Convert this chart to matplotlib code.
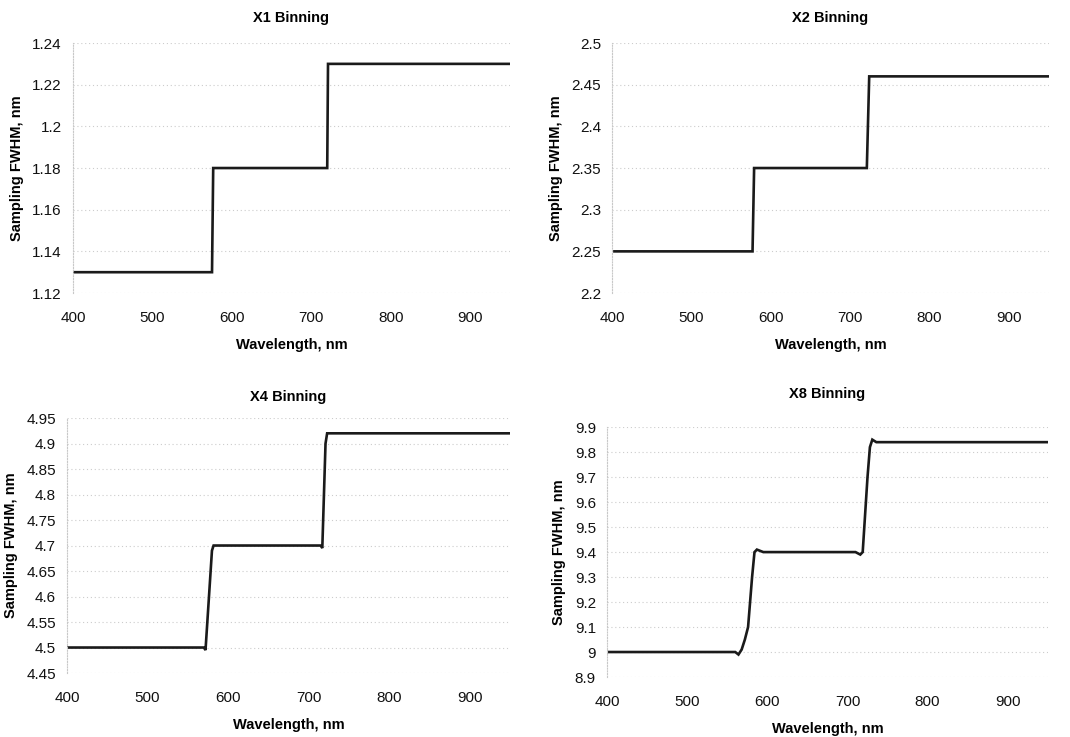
import matplotlib
matplotlib.use("Agg")
import matplotlib.pyplot as plt

plt.rcParams['font.family'] = ['Liberation Sans', 'DejaVu Sans']

titles = ["X1 Binning", "X2 Binning", "X4 Binning", "X8 Binning"]
xlabel = "Wavelength, nm"
ylabel = "Sampling FWHM, nm"
xticks = [400, 500, 600, 700, 800, 900]

# X1
x1_wl = [400, 575, 576.5, 720, 721, 950]
x1_fw = [1.13, 1.13, 1.18, 1.18, 1.23, 1.23]
# X2
x2_wl = [403, 577, 579, 721, 724, 955]
x2_fw = [2.25, 2.25, 2.35, 2.35, 2.46, 2.46]
# X4
x4_wl = [400, 570, 572, 580, 582, 715, 717, 721, 723, 950]
x4_fw = [4.50, 4.50, 4.495, 4.69, 4.70, 4.70, 4.695, 4.90, 4.92, 4.92]
# X8
x8_wl = [400, 560, 564, 568, 572, 576, 581, 584, 587, 595, 710, 716, 719, 722, 725, 728, 731, 736, 950]
x8_fw = [9.00, 9.00, 8.99, 9.01, 9.05, 9.10, 9.30, 9.40, 9.41, 9.40, 9.40, 9.39, 9.40, 9.55, 9.70, 9.82, 9.85, 9.84, 9.84]

series = [(x1_wl, x1_fw), (x2_wl, x2_fw), (x4_wl, x4_fw), (x8_wl, x8_fw)]
ylims = [(1.12, 1.24), (2.2, 2.5), (4.45, 4.95), (8.9, 9.9)]
ylabels_list = [
    ["1.12", "1.14", "1.16", "1.18", "1.2", "1.22", "1.24"],
    ["2.2", "2.25", "2.3", "2.35", "2.4", "2.45", "2.5"],
    ["4.45", "4.5", "4.55", "4.6", "4.65", "4.7", "4.75", "4.8", "4.85", "4.9", "4.95"],
    ["8.9", "9", "9.1", "9.2", "9.3", "9.4", "9.5", "9.6", "9.7", "9.8", "9.9"],
]

positions = [
    [0.0682, 0.6024, 0.4084, 0.3392],
    [0.5720, 0.6024, 0.4080, 0.3392],
    [0.0626, 0.0868, 0.4140, 0.3460],
    [0.5673, 0.0814, 0.4120, 0.3390],
]
title_pads = [15, 15, 12, 21]

fig = plt.figure(figsize=(10.7, 7.37), dpi=100)
for i in range(4):
    ax = fig.add_axes(positions[i])
    wl, fw = series[i]
    ax.plot(wl, fw, color='#1a1a1a', lw=1.9, solid_joinstyle='miter')
    ax.set_xlim(400, 950)
    ax.set_ylim(*ylims[i])
    ax.set_xticks(xticks)
    yt = [float(s) for s in ylabels_list[i]]
    ax.set_yticks(yt)
    ax.set_yticklabels(ylabels_list[i])
    ax.tick_params(axis='both', length=0, labelsize=11, colors='#111111')
    ax.tick_params(axis='x', pad=13)
    ax.tick_params(axis='y', pad=8)
    ax.yaxis.grid(True, color='#cccccc', linestyle=(0, (1, 2.5)), lw=0.8)
    for s in ['top', 'right', 'bottom']:
        ax.spines[s].set_visible(False)
    ax.spines['left'].set_color('#c8c8c8')
    ax.spines['left'].set_linestyle((0, (1, 1.5)))
    ax.spines['left'].set_linewidth(0.8)
    ax.set_xlabel(xlabel, fontsize=10.5, fontweight='bold', labelpad=9)
    ax.set_ylabel(ylabel, fontsize=10.5, fontweight='bold', labelpad=6)
    ax.set_title(titles[i], fontsize=10.5, fontweight='bold', pad=title_pads[i])

fig.savefig("out.png", dpi=100)
